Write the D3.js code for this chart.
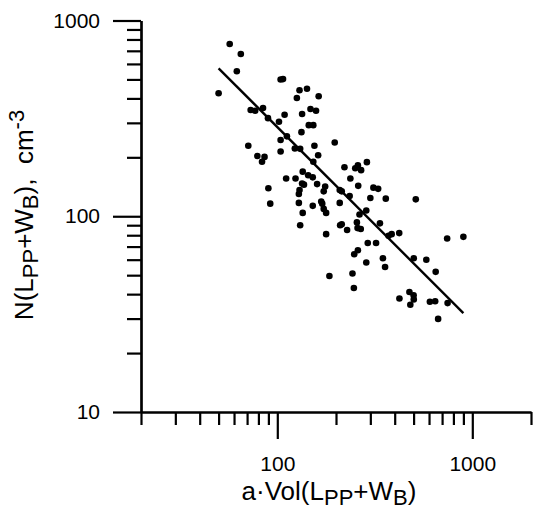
<!DOCTYPE html>
<html>
<head>
<meta charset="utf-8">
<script src="https://cdn.jsdelivr.net/npm/d3@7"></script>
<style>
body { margin: 0; background: #fff; }
text { font-family: "Liberation Sans", Arial, sans-serif; fill: #000; }
</style>
</head>
<body>
<div id="chart-container"></div>
<script>
// data: a*Vol(Lpp+Wb) and N(Lpp+Wb)
const volValues = [57, 65, 62, 50, 73, 77, 84.5, 89.6, 104, 107,
    130, 142, 126, 163, 109, 134, 148, 158, 145, 153,
    102, 133, 112, 104, 104, 123, 131, 155, 162, 153,
    197, 71, 79, 86, 83.5, 221, 251, 259, 269, 288,
    135, 144, 152, 111, 124, 237, 134, 137, 160, 176,
    173, 130, 129, 209, 214, 260, 235, 311, 329, 300,
    129, 152, 168, 170, 173, 178, 209, 135, 131, 178,
    210, 214, 228, 256, 258, 268, 264, 286, 336, 291,
    321, 259, 248, 286, 185, 243, 247, 360, 513, 386,
    372, 422, 743, 900, 348, 357, 501, 581, 649, 476,
    423, 500, 501, 481, 606, 645, 747, 668, 90, 92]
const nValues = [759, 674, 550, 425, 349, 346, 357, 317, 500, 502,
    440, 448, 402, 410, 330, 333, 353, 346, 292, 292,
    304, 269, 256, 245, 214, 222, 221, 229, 205, 190,
    238, 229, 203, 201, 190, 178, 176, 182, 172, 189,
    169, 162, 158, 156, 156, 156, 147, 145, 146, 142,
    134, 136, 130, 136, 134, 143, 127, 140, 138, 124,
    117, 113, 119, 116, 109, 104, 117, 104, 90, 81,
    90, 91, 85, 93, 87, 86, 102, 107, 92, 73,
    73, 67, 64, 58, 49.5, 51, 43, 123, 122, 81,
    79.5, 82, 77, 78.5, 61, 55, 61, 60, 52, 41,
    38, 39.5, 37.6, 35.3, 36.6, 36.8, 36, 29.9, 139, 116]

// fitted line, two end points
const fitVol = [50, 900]
const fitN = [570, 32]

// ticks
const xMajor = [100, 1000]
const xMinor = [20, 30, 40, 50, 60, 70, 80, 90, 200, 300, 400, 500, 600, 700, 800, 900, 2000]
const yMajor = [10, 100, 1000]
const yMinor = [20, 30, 40, 50, 60, 70, 80, 90, 200, 300, 400, 500, 600, 700, 800, 900]

const width = 533
const height = 517

const svg = d3.select('#chart-container')
    .append('svg')
    .attr('width', width)
    .attr('height', height)

const xScale = d3.scaleLog().domain([20, 2000]).range([141, 531])
const yScale = d3.scaleLog().domain([10, 1000]).range([412, 20.5])

const points = volValues.map((v, i) => ({ vol: v, n: nValues[i] }))

// x axis: minor ticks then major ticks with labels
svg.append('g')
    .attr('transform', `translate(0, ${yScale(10)})`)
    .call(d3.axisBottom(xScale).tickValues(xMinor).tickSize(13).tickSizeOuter(0).tickFormat(''))
svg.append('g')
    .attr('transform', `translate(0, ${yScale(10)})`)
    .call(d3.axisBottom(xScale).tickValues(xMajor).tickSize(27).tickSizeOuter(0)
        .tickPadding(17).tickFormat(d3.format('d')))

// y axis
svg.append('g')
    .attr('transform', `translate(${xScale(20)}, 0)`)
    .call(d3.axisLeft(yScale).tickValues(yMinor).tickSize(14).tickSizeOuter(0).tickFormat(''))
svg.append('g')
    .attr('transform', `translate(${xScale(20)}, 0)`)
    .call(d3.axisLeft(yScale).tickValues(yMajor).tickSize(28).tickSizeOuter(0)
        .tickPadding(13).tickFormat(d3.format('d')))

// styling of the axes
svg.selectAll('.domain, .tick line')
    .attr('stroke', '#000')
    .attr('stroke-width', 2.2)
svg.selectAll('.tick text')
    .style('font-size', '21px')
    .attr('fill', '#000')

// dots
svg.append('g')
    .selectAll('circle')
    .data(points)
    .enter()
    .append('circle')
    .attr('cx', d => xScale(d.vol))
    .attr('cy', d => yScale(d.n))
    .attr('r', 3.3)
    .attr('fill', '#000')

// regression line
const line = d3.line()
    .x(d => xScale(d[0]))
    .y(d => yScale(d[1]))
svg.append('path')
    .datum(fitVol.map((v, i) => [v, fitN[i]]))
    .attr('d', line)
    .attr('fill', 'none')
    .attr('stroke', '#000')
    .attr('stroke-width', 2.4)

// x axis title
const xTitle = svg.append('text')
    .attr('x', 329)
    .attr('y', 500)
    .attr('text-anchor', 'middle')
    .style('font-size', '26px')
xTitle.append('tspan').text('a\u00b7Vol(L')
xTitle.append('tspan').attr('dy', 5).style('font-size', '22px').text('PP')
xTitle.append('tspan').attr('dy', -5).text('+W')
xTitle.append('tspan').attr('dy', 5).style('font-size', '22px').text('B')
xTitle.append('tspan').attr('dy', -5).text(')')

// y axis title
const yTitle = svg.append('text')
    .attr('transform', 'translate(33, 215) rotate(-90)')
    .attr('text-anchor', 'middle')
    .style('font-size', '26px')
yTitle.append('tspan').text('N(L')
yTitle.append('tspan').attr('dy', 5).style('font-size', '22px').text('PP')
yTitle.append('tspan').attr('dy', -5).text('+W')
yTitle.append('tspan').attr('dy', 5).style('font-size', '22px').text('B')
yTitle.append('tspan').attr('dy', -5).text('),\u00a0 cm')
yTitle.append('tspan').attr('dy', -9).style('font-size', '22px').text('-3')
</script>
</body>
</html>
